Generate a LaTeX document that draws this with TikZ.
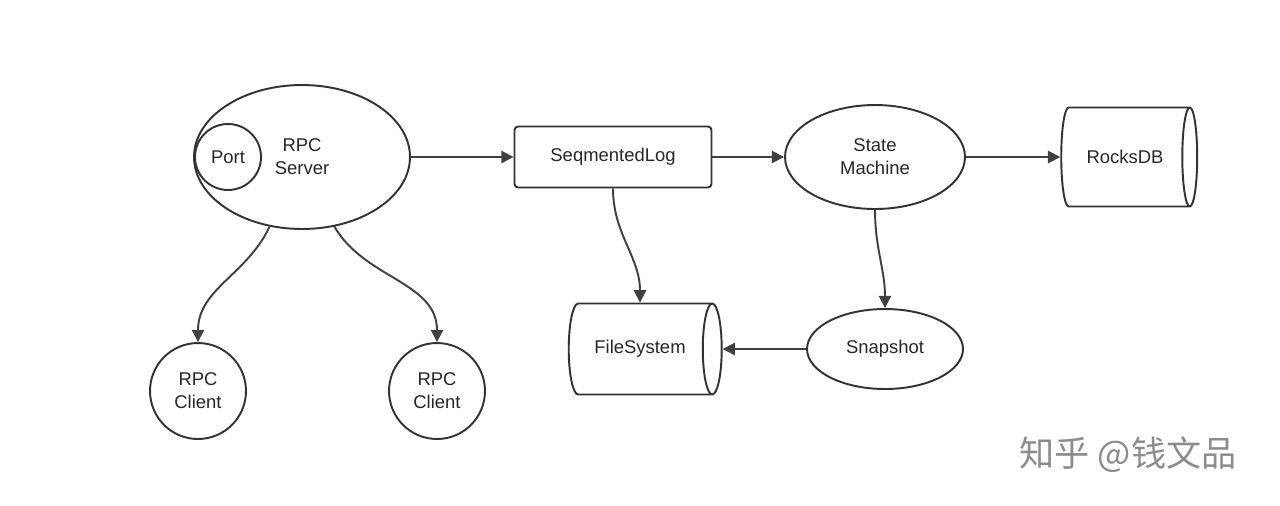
\documentclass[tikz,border=0pt]{standalone}
\usepackage{fontspec}
\setmainfont{Liberation Sans}
\newfontfamily\cjk{Noto Sans CJK SC}
\usetikzlibrary{shapes.geometric,arrows.meta}

\begin{document}
\begin{tikzpicture}[
        x=0.02cm, y=-0.02cm,
        every node/.style={font=\fontsize{10.5}{13}\selectfont, text=black!85, align=center},
        box/.style={draw=black!80, line width=1.1pt},
        blob/.style={box, ellipse, inner sep=0pt},
        disk/.style={box, cylinder, shape aspect=1.1, inner sep=0pt},
        flow/.style={draw=black!75, line width=1.1pt, -{Triangle[length=7pt,width=7pt]}}
    ]
    \useasboundingbox (0,0) rectangle (1280,505);

    % --- Nodes ---
    \node[blob, minimum width=4.32cm, minimum height=2.88cm] (server) at (302,157) {};
    \node[box, circle, minimum size=1.32cm, inner sep=0pt] (port) at (228,157) {Port};
    \node at (302,157) {RPC\\Server};
    \node[box, rounded corners=2pt, minimum width=3.94cm, minimum height=1.22cm] (seqlog) at (613,157) {SeqmentedLog};
    \node[blob, minimum width=3.6cm, minimum height=2.08cm] (fsm) at (875,157) {State\\Machine};
    \node[disk, minimum height=2.72cm, minimum width=1.98cm] (rocks) at (1125,157) {RocksDB};
    \node[disk, minimum height=3.06cm, minimum width=1.82cm] (fs) at (640,349) {FileSystem};
    \node[blob, minimum width=3.12cm, minimum height=1.6cm] (snap) at (885,349) {Snapshot};
    \node[box, circle, minimum size=1.92cm, inner sep=0pt] (client1) at (198,391) {RPC\\Client};
    \node[box, circle, minimum size=1.92cm, inner sep=0pt] (client2) at (437,391) {RPC\\Client};

    % --- Connectors ---
    \draw[flow] (server.east) -- (seqlog.west);
    \draw[flow] (seqlog.east) -- (fsm.west);
    \draw[flow] (fsm.east) -- (rocks.west);
    \draw[flow] (seqlog.south) to[out=-90,in=90] (fs.north);
    \draw[flow] (fsm.south) to[out=-90,in=90] (snap.north);
    \draw[flow] (snap.west) -- (fs.east);
    \draw[flow] (server.245) to[out=245,in=90] (client1.north);
    \draw[flow] (server.295) to[out=-60,in=90] (client2.north);

    % watermark
    \node[font=\cjk\fontsize{20}{24}\selectfont, text=black!45] (mark) at (1128,455) {知乎 @钱文品};
\end{tikzpicture}
\end{document}
